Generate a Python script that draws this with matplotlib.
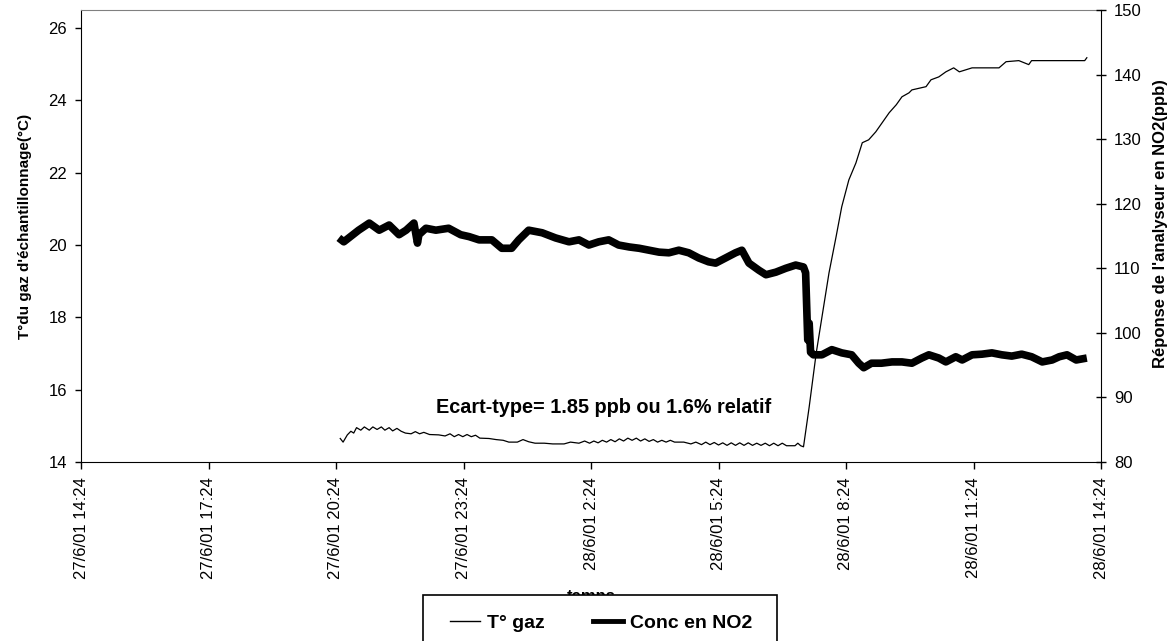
import matplotlib
matplotlib.use("Agg")
import matplotlib.pyplot as plt
import matplotlib.dates as mdates
import pandas as pd
from matplotlib.lines import Line2D
from matplotlib.patches import Rectangle
from matplotlib.ticker import FixedLocator, FuncFormatter

plt.rcParams["font.family"] = ["Liberation Sans", "DejaVu Sans"]

# T° gaz (°C) - left axis
temp_time = [
    "2001-06-27 20:30", "2001-06-27 20:34", "2001-06-27 20:40", "2001-06-27 20:45",
    "2001-06-27 20:49", "2001-06-27 20:53", "2001-06-27 20:59", "2001-06-27 21:04",
    "2001-06-27 21:11", "2001-06-27 21:16", "2001-06-27 21:22", "2001-06-27 21:28",
    "2001-06-27 21:33", "2001-06-27 21:39", "2001-06-27 21:44", "2001-06-27 21:50",
    "2001-06-27 21:56", "2001-06-27 22:02", "2001-06-27 22:10", "2001-06-27 22:16",
    "2001-06-27 22:22", "2001-06-27 22:28", "2001-06-27 22:36", "2001-06-27 22:49",
    "2001-06-27 22:58", "2001-06-27 23:05", "2001-06-27 23:11", "2001-06-27 23:17",
    "2001-06-27 23:23", "2001-06-27 23:29", "2001-06-27 23:35", "2001-06-27 23:41",
    "2001-06-27 23:47", "2001-06-28 00:00", "2001-06-28 00:10", "2001-06-28 00:20",
    "2001-06-28 00:28", "2001-06-28 00:40", "2001-06-28 00:48", "2001-06-28 00:56",
    "2001-06-28 01:05", "2001-06-28 01:18", "2001-06-28 01:30", "2001-06-28 01:46",
    "2001-06-28 01:55", "2001-06-28 02:07", "2001-06-28 02:15", "2001-06-28 02:22",
    "2001-06-28 02:28", "2001-06-28 02:34", "2001-06-28 02:40", "2001-06-28 02:46",
    "2001-06-28 02:52", "2001-06-28 02:58", "2001-06-28 03:04", "2001-06-28 03:10",
    "2001-06-28 03:16", "2001-06-28 03:22", "2001-06-28 03:28", "2001-06-28 03:34",
    "2001-06-28 03:40", "2001-06-28 03:46", "2001-06-28 03:52", "2001-06-28 03:58",
    "2001-06-28 04:04", "2001-06-28 04:10", "2001-06-28 04:16", "2001-06-28 04:22",
    "2001-06-28 04:35", "2001-06-28 04:45", "2001-06-28 04:52", "2001-06-28 05:00",
    "2001-06-28 05:06", "2001-06-28 05:12", "2001-06-28 05:18", "2001-06-28 05:24",
    "2001-06-28 05:30", "2001-06-28 05:36", "2001-06-28 05:42", "2001-06-28 05:48",
    "2001-06-28 05:54", "2001-06-28 06:00", "2001-06-28 06:06", "2001-06-28 06:12",
    "2001-06-28 06:18", "2001-06-28 06:24", "2001-06-28 06:30", "2001-06-28 06:36",
    "2001-06-28 06:42", "2001-06-28 06:48", "2001-06-28 06:54", "2001-06-28 07:00",
    "2001-06-28 07:06", "2001-06-28 07:12", "2001-06-28 07:16", "2001-06-28 07:20",
    "2001-06-28 07:24", "2001-06-28 07:32", "2001-06-28 07:42", "2001-06-28 07:50",
    "2001-06-28 08:00", "2001-06-28 08:10", "2001-06-28 08:18", "2001-06-28 08:28",
    "2001-06-28 08:38", "2001-06-28 08:47", "2001-06-28 08:56", "2001-06-28 09:06",
    "2001-06-28 09:15", "2001-06-28 09:25", "2001-06-28 09:35", "2001-06-28 09:43",
    "2001-06-28 09:53", "2001-06-28 09:57", "2001-06-28 10:17", "2001-06-28 10:24",
    "2001-06-28 10:35", "2001-06-28 10:45", "2001-06-28 10:56", "2001-06-28 11:04",
    "2001-06-28 11:22", "2001-06-28 12:00", "2001-06-28 12:10", "2001-06-28 12:28",
    "2001-06-28 12:42", "2001-06-28 12:46", "2001-06-28 14:01", "2001-06-28 14:04",
]
temp_val = [
    14.65, 14.55, 14.75, 14.85,
    14.80, 14.95, 14.88, 14.97,
    14.88, 14.97, 14.90, 14.97,
    14.88, 14.95, 14.86, 14.93,
    14.85, 14.80, 14.78, 14.84,
    14.78, 14.82, 14.76, 14.75,
    14.72, 14.78, 14.70, 14.76,
    14.70, 14.76, 14.70, 14.74,
    14.66, 14.65, 14.62, 14.60,
    14.55, 14.55, 14.62, 14.56,
    14.52, 14.52, 14.50, 14.50,
    14.55, 14.52, 14.58, 14.52,
    14.58, 14.53, 14.60, 14.55,
    14.62, 14.56, 14.64, 14.58,
    14.66, 14.60, 14.66, 14.58,
    14.64, 14.57, 14.62, 14.55,
    14.60, 14.55, 14.60, 14.55,
    14.55, 14.50, 14.55, 14.48,
    14.55, 14.48, 14.54, 14.47,
    14.53, 14.46, 14.53, 14.46,
    14.53, 14.46, 14.53, 14.46,
    14.52, 14.46, 14.52, 14.45,
    14.52, 14.45, 14.52, 14.45,
    14.45, 14.45, 14.52, 14.45,
    14.42, 15.52, 17.02, 18.01,
    19.23, 20.23, 21.06, 21.80,
    22.27, 22.83, 22.91, 23.13,
    23.38, 23.66, 23.88, 24.10,
    24.21, 24.29, 24.38, 24.57,
    24.65, 24.79, 24.90, 24.79,
    24.90, 24.90, 25.07, 25.10,
    24.99, 25.10, 25.10, 25.18,
]

# Conc en NO2 (ppb) - right axis
no2_time = [
    "2001-06-27 20:28", "2001-06-27 20:35", "2001-06-27 20:42", "2001-06-27 20:56",
    "2001-06-27 21:11", "2001-06-27 21:25", "2001-06-27 21:39", "2001-06-27 21:53",
    "2001-06-27 22:03", "2001-06-27 22:14", "2001-06-27 22:19", "2001-06-27 22:21",
    "2001-06-27 22:31", "2001-06-27 22:45", "2001-06-27 23:03", "2001-06-27 23:20",
    "2001-06-27 23:32", "2001-06-27 23:46", "2001-06-28 00:04", "2001-06-28 00:18",
    "2001-06-28 00:32", "2001-06-28 00:42", "2001-06-28 00:56", "2001-06-28 01:15",
    "2001-06-28 01:34", "2001-06-28 01:53", "2001-06-28 02:07", "2001-06-28 02:21",
    "2001-06-28 02:35", "2001-06-28 02:49", "2001-06-28 03:03", "2001-06-28 03:18",
    "2001-06-28 03:32", "2001-06-28 03:46", "2001-06-28 04:00", "2001-06-28 04:14",
    "2001-06-28 04:28", "2001-06-28 04:42", "2001-06-28 04:56", "2001-06-28 05:10",
    "2001-06-28 05:20", "2001-06-28 05:34", "2001-06-28 05:48", "2001-06-28 05:57",
    "2001-06-28 06:07", "2001-06-28 06:21", "2001-06-28 06:31", "2001-06-28 06:45",
    "2001-06-28 06:59", "2001-06-28 07:13", "2001-06-28 07:24", "2001-06-28 07:27",
    "2001-06-28 07:30", "2001-06-28 07:32", "2001-06-28 07:34", "2001-06-28 07:38",
    "2001-06-28 07:50", "2001-06-28 08:04", "2001-06-28 08:18", "2001-06-28 08:32",
    "2001-06-28 08:42", "2001-06-28 08:49", "2001-06-28 09:00", "2001-06-28 09:14",
    "2001-06-28 09:29", "2001-06-28 09:43", "2001-06-28 09:57", "2001-06-28 10:11",
    "2001-06-28 10:21", "2001-06-28 10:35", "2001-06-28 10:45", "2001-06-28 10:59",
    "2001-06-28 11:08", "2001-06-28 11:22", "2001-06-28 11:36", "2001-06-28 11:50",
    "2001-06-28 12:04", "2001-06-28 12:18", "2001-06-28 12:32", "2001-06-28 12:46",
    "2001-06-28 13:01", "2001-06-28 13:15", "2001-06-28 13:25", "2001-06-28 13:36",
    "2001-06-28 13:49", "2001-06-28 14:04",
]
no2_val = [
    114.7, 114.1, 114.7, 115.9,
    117.0, 115.9, 116.7, 115.2,
    115.9, 117.0, 113.9, 115.2,
    116.2, 115.9, 116.2, 115.2,
    114.9, 114.4, 114.4, 113.1,
    113.1, 114.4, 115.9, 115.5,
    114.7, 114.1, 114.4, 113.6,
    114.1, 114.4, 113.6, 113.3,
    113.1, 112.8, 112.5, 112.4,
    112.8, 112.4, 111.6, 111.0,
    110.8, 111.6, 112.4, 112.8,
    110.8, 109.7, 109.0, 109.4,
    110.0, 110.5, 110.2, 109.3,
    98.9, 101.5, 97.0, 96.6,
    96.6, 97.4, 96.9, 96.6,
    95.3, 94.6, 95.3, 95.3,
    95.5, 95.5, 95.3, 96.1,
    96.6, 96.1, 95.5, 96.3,
    95.8, 96.6, 96.7, 96.9,
    96.6, 96.4, 96.7, 96.3,
    95.5, 95.8, 96.3, 96.6,
    95.8, 96.1,
]

x_start = "2001-06-27 14:24"
x_end = "2001-06-28 14:24"
left_ticks = [14, 16, 18, 20, 22, 24, 26]
right_ticks = [80, 90, 100, 110, 120, 130, 140, 150]

W, H = 1176, 641
fig = plt.figure(figsize=(W / 100, H / 100), dpi=100)
ax = fig.add_axes([81 / W, 1 - 462 / H, 1020 / W, 452 / H])
ax2 = ax.twinx()

ax.plot(pd.to_datetime(temp_time), temp_val, color="black", lw=0.9)
ax2.plot(pd.to_datetime(no2_time), no2_val, color="black", lw=5.5,
         solid_joinstyle="round", solid_capstyle="butt")

ax.set_xlim(pd.Timestamp(x_start), pd.Timestamp(x_end))
ticks = mdates.date2num(pd.date_range(x_start, x_end, freq="3h"))
ax.xaxis.set_major_locator(FixedLocator(ticks))


def fmt_date(v, pos):
    d = mdates.num2date(v)
    return f"{d.day}/{d.month}/{d:%y} {d.hour}:{d:%M}"


ax.xaxis.set_major_formatter(FuncFormatter(fmt_date))

ax.set_ylim(14, 26.5)
ax.set_yticks(left_ticks)
ax2.set_ylim(80, 150)
ax2.set_yticks(right_ticks)

ax.tick_params(axis="x", direction="out", length=5, width=1, pad=6,
               labelsize=12, labelrotation=90)
ax.tick_params(axis="y", direction="out", length=4, width=1, pad=6, labelsize=12)
ax2.tick_params(axis="y", direction="inout", length=7, width=1, pad=6, labelsize=12)

ax.spines["top"].set_color("#808080")
ax.spines["right"].set_visible(False)
for s in ("top", "left", "bottom"):
    ax2.spines[s].set_visible(False)
ax2.spines["right"].set_color("black")

fig.text(25 / W, 1 - 226 / H, "T°du gaz d'échantillonnage(°C)", rotation=90,
         ha="center", va="center", fontsize=11, fontweight="bold")
fig.text(1160 / W, 1 - 224 / H, "Réponse de l'analyseur en NO2(ppb)", rotation=90,
         ha="center", va="center", fontsize=12, fontweight="bold")
fig.text(591 / W, 1 - 601 / H, "temps", ha="center", va="baseline",
         fontsize=12, fontweight="bold", zorder=1)

ax.text((436 - 81) / 1020, (462 - 413) / 452, "Ecart-type= 1.85 ppb ou 1.6% relatif",
        transform=ax.transAxes, ha="left", va="baseline",
        fontsize=14.3, fontweight="bold")

# legend box (partly cut by the figure bottom, as in the original)
box = Rectangle((423 / W, -0.05), 354 / W, (641 - 595) / H + 0.05,
                transform=fig.transFigure, facecolor="white",
                edgecolor="black", lw=1.2, zorder=4)
fig.add_artist(box)
handles = [Line2D([], [], color="black", lw=1),
           Line2D([], [], color="black", lw=3.5)]
leg = fig.legend(handles, ["T° gaz", "Conc en NO2"], loc="center",
                 bbox_to_anchor=(601 / W, 1 - 623 / H), ncol=2, frameon=False,
                 prop={"size": 14, "weight": "bold"}, handlelength=1.55,
                 handletextpad=0.35, columnspacing=2.5)
leg.set_zorder(5)

fig.savefig("out.png", dpi=100)
